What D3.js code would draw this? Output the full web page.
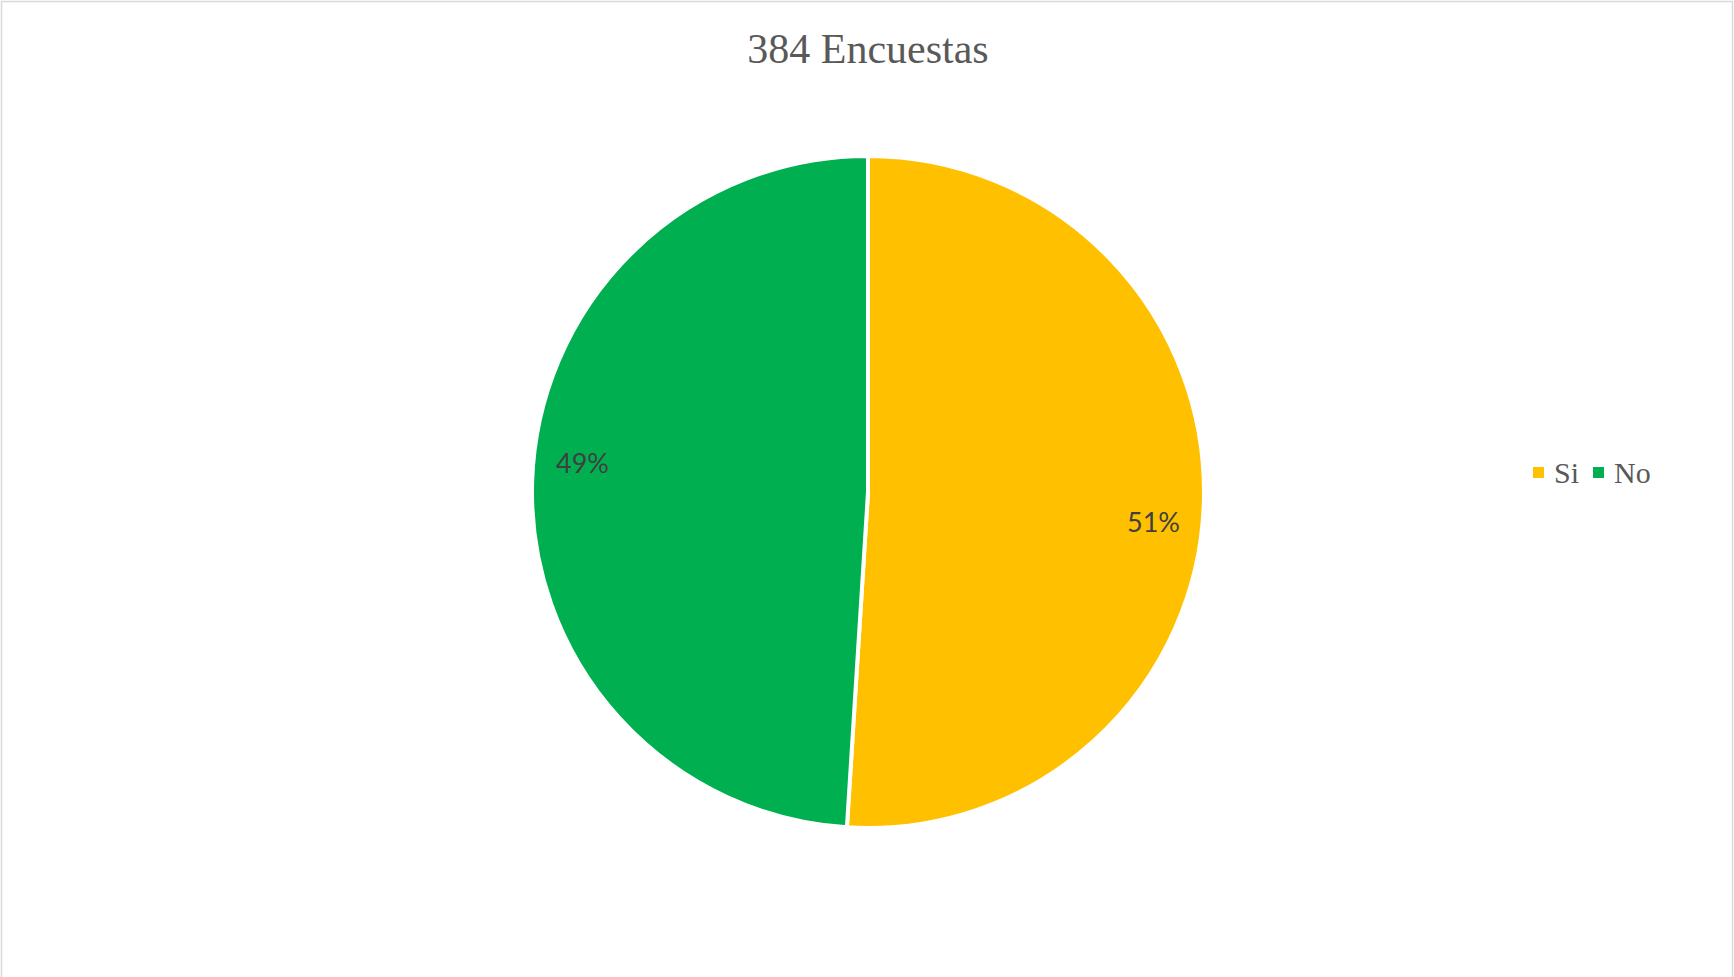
<!DOCTYPE html>
<html>
<head>
<meta charset="utf-8">
<script src="https://cdn.jsdelivr.net/npm/d3@7/dist/d3.min.js"></script>
<style>
  html, body { margin: 0; padding: 0; background: #fff; }
  svg { display: block; }
</style>
</head>
<body>
<svg id="chart" width="1734" height="977"></svg>
<script>
// Survey answers, share of 384 responses (percent)
const categories = ["Si", "No"];
const shares = [51, 49];
const colors = ["#FFC000", "#00B050"];
const titleText = "384 Encuestas";

const W = 1734, H = 977;
const cx = 868, cy = 492, R = 336;

const svg = d3.select("#chart");

// chart frame
svg.append("rect")
  .attr("x", 1.5).attr("y", 1.5)
  .attr("width", W - 3).attr("height", H + 10)
  .attr("fill", "#fff")
  .attr("stroke", "#d9d9d9")
  .attr("stroke-width", 1.5);

// title
svg.append("text")
  .attr("x", cx).attr("y", 63)
  .attr("text-anchor", "middle")
  .attr("font-family", "'Liberation Serif', 'Times New Roman', serif")
  .attr("font-size", 42)
  .attr("fill", "#595959")
  .text(titleText);

const total = d3.sum(shares);
const data = categories.map((c, i) => ({ cat: c, value: shares[i], color: colors[i] }));

const pie = d3.pie().value(d => d.value).sort(null);
const arcs = pie(data);
const arc = d3.arc().innerRadius(0).outerRadius(R);

const g = svg.append("g").attr("transform", `translate(${cx},${cy})`);

g.selectAll("path.slice")
  .data(arcs)
  .join("path")
  .attr("class", "slice")
  .attr("d", arc)
  .attr("fill", d => d.data.color)
  .attr("stroke", "#fff")
  .attr("stroke-width", 4)
  .attr("stroke-linejoin", "round");

// percentage labels placed near the outer edge of each slice
const labelR = 287, labelShift = 0.07;
g.selectAll("text.pct")
  .data(arcs)
  .join("text")
  .attr("class", "pct")
  .attr("x", d => labelR * Math.sin((d.startAngle + d.endAngle) / 2 + labelShift))
  .attr("y", d => -labelR * Math.cos((d.startAngle + d.endAngle) / 2 + labelShift))
  .attr("text-anchor", "middle")
  .attr("dominant-baseline", "central")
  .attr("font-family", "Lato, 'Open Sans', sans-serif")
  .attr("font-size", 27)
  .attr("fill", "#404040")
  .text(d => Math.round(d.data.value / total * 100) + "%");

// legend
const legend = svg.append("g").attr("transform", "translate(1533,467)");
const legendX = [0, 60];
const items = legend.selectAll("g.item")
  .data(data)
  .join("g")
  .attr("class", "item")
  .attr("transform", (d, i) => `translate(${legendX[i]},0)`);
items.append("rect")
  .attr("width", 11).attr("height", 11)
  .attr("fill", d => d.color);
items.append("text")
  .attr("x", 21).attr("y", 16)
  .attr("font-family", "'Liberation Serif', 'Times New Roman', serif")
  .attr("font-size", 30)
  .attr("fill", "#595959")
  .text(d => d.cat);
</script>
</body>
</html>
